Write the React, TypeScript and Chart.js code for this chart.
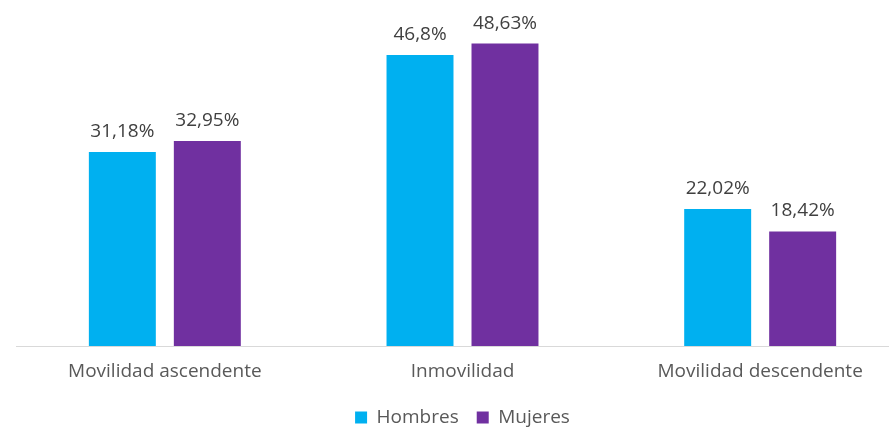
import React, { useEffect, useRef } from "react";
import { Chart, registerables } from "chart.js";

Chart.register(...registerables);

const categories = ["Movilidad ascendente", "Inmovilidad", "Movilidad descendente"];
const hombres = [31.18, 46.8, 22.02];
const mujeres = [32.95, 48.63, 18.42];
const hombresLabels = ["31,18%", "46,8%", "22,02%"];
const mujeresLabels = ["32,95%", "48,63%", "18,42%"];

const FONT = "'Open Sans', 'Noto Sans', sans-serif";

const valueLabels = {
  id: "valueLabels",
  afterDatasetsDraw(chart: any) {
    const ctx = chart.ctx;
    ctx.save();
    ctx.font = `19px ${FONT}`;
    ctx.fillStyle = "#404040";
    ctx.textAlign = "center";
    ctx.textBaseline = "alphabetic";
    chart.data.datasets.forEach((ds: any, di: number) => {
      const meta = chart.getDatasetMeta(di);
      const labels = ds.valueLabels as string[];
      meta.data.forEach((bar: any, i: number) => {
        ctx.fillText(labels[i], bar.x, bar.y - 15);
      });
    });
    ctx.restore();
  },
};

export default function App() {
  const ref = useRef<HTMLCanvasElement | null>(null);
  useEffect(() => {
    if (!ref.current) return;
    const chart = new Chart(ref.current, {
      type: "bar",
      data: {
        labels: categories,
        datasets: [
          {
            label: "Hombres",
            data: hombres,
            backgroundColor: "#00B0F0",
            valueLabels: hombresLabels,
          } as any,
          {
            label: "Mujeres",
            data: mujeres,
            backgroundColor: "#7030A0",
            valueLabels: mujeresLabels,
          } as any,
        ],
      },
      options: {
        animation: false,
        responsive: false,
        maintainAspectRatio: false,
        layout: { padding: { left: 16, right: 0, top: 4, bottom: 0 } },
        datasets: {
          bar: { barPercentage: 0.788, categoryPercentage: 0.571 },
        },
        scales: {
          x: {
            grid: { display: false, drawTicks: false },
            border: { display: true, color: "#D9D9D9", width: 1 },
            ticks: { color: "#595959", font: { family: FONT, size: 19 }, padding: 14 },
            afterFit: (scale: any) => {
              scale.height = 44;
            },
          },
          y: {
            display: false,
            min: 0,
            max: 55,
          },
        },
        plugins: {
          legend: {
            position: "bottom",
            maxHeight: 37,
            labels: {
              color: "#595959",
              font: { family: FONT, size: 19 },
              boxWidth: 12,
              boxHeight: 12,
              padding: 18,
            },
          },
          tooltip: { enabled: false },
        },
      },
      plugins: [valueLabels],
    });
    return () => chart.destroy();
  }, []);
  return (
    <div style={{ position: "fixed", left: 0, top: 0, width: 889, height: 427, overflow: "hidden", background: "#fff" }}>
      <canvas ref={ref} width={909} height={427} style={{ width: 909, height: 427, display: "block" }} />
    </div>
  );
}
